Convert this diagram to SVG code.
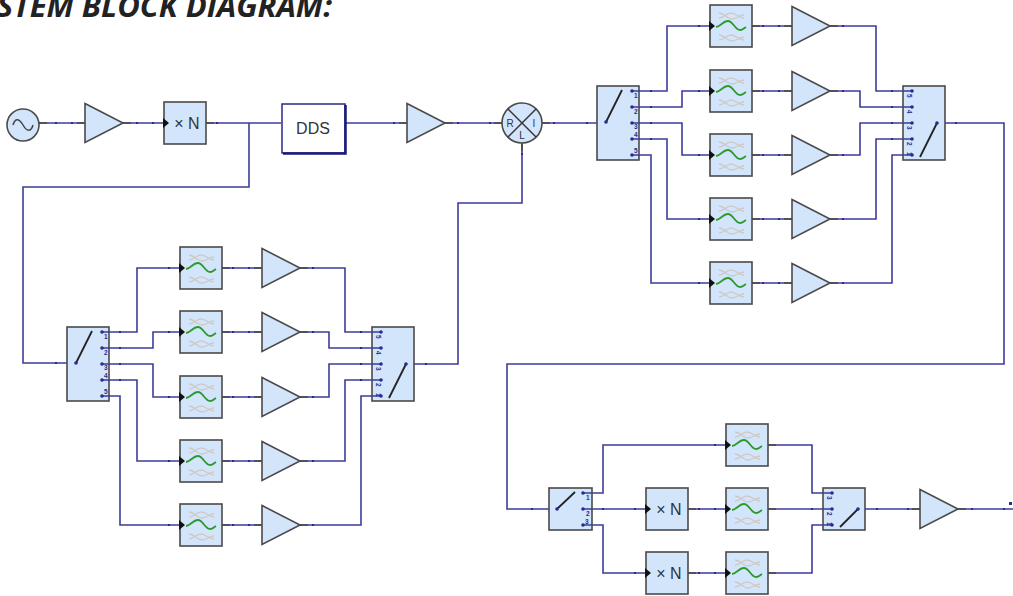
<svg xmlns="http://www.w3.org/2000/svg" xmlns:xlink="http://www.w3.org/1999/xlink" width="1013" height="596" viewBox="0 0 1013 596">
<style>
.blk{fill:#d3e5fb;stroke:#4a4a4a;stroke-width:1.6}
.lead{stroke:#4a4a4a;stroke-width:1.6}
.w{fill:none;stroke:#3c3c9c;stroke-width:1.6}
.dot{fill:#2a2a90}
.wg{fill:none;stroke:#cfc9c4;stroke-width:1.3}
.wgr{fill:none;stroke:#2a9a2a;stroke-width:1.8}
.wip{stroke:#222;stroke-width:1.8}
.pn{font-family:"Liberation Sans",Arial,sans-serif;font-size:6.5px;fill:#2a2a90;font-weight:bold}
.lbl{font-family:"Liberation Sans",Arial,sans-serif;fill:#333}
.title{font-family:"Open Sans","DejaVu Sans",sans-serif;font-weight:bold;font-style:italic;font-size:31px;fill:#222}
</style>
<defs>
<g id="amp">
<line x1="-8" y1="19.5" x2="0" y2="19.5" class="lead"/>
<polygon points="0,0 38,19.5 0,39" class="blk"/>
<line x1="38" y1="19.5" x2="46" y2="19.5" class="lead"/>
</g>
<g id="flt">
<rect x="0" y="0" width="42" height="42" class="blk"/>
<path d="M9,8 C14,8 17,14 22,14 C27,14 29,10 34,10" class="wg"/>
<path d="M9,13 C14,13 16,8 21,8 C26,8 29,13 34,13" class="wg"/>
<path d="M6,22 C10,22 13,16 18,16 C23,16 25,25 30,25 C33,25 34,23 36,22" class="wgr"/>
<path d="M9,30 C14,30 17,36 22,36 C27,36 29,32 34,32" class="wg"/>
<path d="M9,35 C14,35 16,30 21,30 C26,30 29,35 34,35" class="wg"/>
<polygon points="-1,16 5,21 -1,26" fill="#111"/>
<line x1="42" y1="21" x2="50" y2="21" class="lead"/>
</g>
<g id="xn">
<rect x="0" y="0" width="42" height="42" class="blk"/>
<polygon points="-1,16 5,21 -1,26" fill="#111"/>
<text x="23" y="27" text-anchor="middle" class="lbl" font-size="16">× N</text>
<line x1="42" y1="21" x2="50" y2="21" class="lead"/>
</g>
<g id="sp5">
<rect x="0" y="0" width="42" height="74" class="blk"/>
<line x1="9" y1="36" x2="25" y2="4" class="wip"/>
<circle cx="9" cy="36" r="1.8" class="dot"/>
<g class="w"><path d="M35,5 H43 M35,21 H43 M35,37 H43 M35,53 H43 M35,69 H43"/></g>
<circle cx="35" cy="5" r="1.8" class="dot"/><circle cx="35" cy="21" r="1.8" class="dot"/><circle cx="35" cy="37" r="1.8" class="dot"/><circle cx="35" cy="53" r="1.8" class="dot"/><circle cx="35" cy="69" r="1.8" class="dot"/>
<text x="37" y="12" class="pn">1</text><text x="37" y="28" class="pn">2</text><text x="37" y="43" class="pn">3</text><text x="37" y="51" class="pn">4</text><text x="37" y="67" class="pn">5</text>
</g>
<g id="cb5">
<rect x="0" y="0" width="42" height="74" class="blk"/>
<line x1="34" y1="37" x2="17" y2="71" class="wip"/>
<circle cx="34" cy="37" r="1.8" class="dot"/>
<g class="w"><path d="M0,5 H9 M0,21 H9 M0,37 H9 M0,53 H9 M0,69 H9"/></g>
<circle cx="9" cy="5" r="1.8" class="dot"/><circle cx="9" cy="21" r="1.8" class="dot"/><circle cx="9" cy="37" r="1.8" class="dot"/><circle cx="9" cy="53" r="1.8" class="dot"/><circle cx="9" cy="69" r="1.8" class="dot"/>
<text transform="translate(4,8) rotate(90)" class="pn">5</text><text transform="translate(4,24) rotate(90)" class="pn">4</text><text transform="translate(4,40) rotate(90)" class="pn">3</text><text transform="translate(4,56) rotate(90)" class="pn">2</text><text transform="translate(4,66) rotate(90)" class="pn">1</text>
</g>
<g id="sp3">
<rect x="0" y="0" width="43" height="42" class="blk"/>
<line x1="8" y1="21" x2="26" y2="4" class="wip"/>
<circle cx="8" cy="21" r="1.8" class="dot"/>
<g class="w"><path d="M34,5 H43 M34,21 H43 M34,37 H43"/></g>
<circle cx="34" cy="5" r="1.8" class="dot"/><circle cx="34" cy="21" r="1.8" class="dot"/><circle cx="34" cy="37" r="1.8" class="dot"/>
<text x="37" y="12" class="pn">1</text><text x="37" y="28" class="pn">2</text><text x="36" y="36" class="pn">3</text>
</g>
<g id="cb3">
<rect x="0" y="0" width="42" height="42" class="blk"/>
<line x1="35" y1="21" x2="17" y2="39" class="wip"/>
<circle cx="35" cy="21" r="1.8" class="dot"/>
<g class="w"><path d="M0,5 H9 M0,21 H9 M0,37 H9"/></g>
<circle cx="9" cy="5" r="1.8" class="dot"/><circle cx="9" cy="21" r="1.8" class="dot"/><circle cx="9" cy="37" r="1.8" class="dot"/>
<text transform="translate(4,8) rotate(90)" class="pn">3</text><text transform="translate(4,24) rotate(90)" class="pn">2</text><text transform="translate(4,34) rotate(90)" class="pn">1</text>
</g>
</defs>
<rect width="1013" height="596" fill="#fff"/>
<text x="332" y="17" text-anchor="end" class="title">SYSTEM BLOCK DIAGRAM:</text>

<g id="connectors" class="w">
<path d="M39,123 H85"/>
<path d="M123,123 H163"/>
<path d="M206,123 H281"/>
<path d="M249,123 V187 H23 V363 H76"/>
<path d="M345,123 H407"/>
<path d="M445,123 H502"/>
<path d="M542,123 H606"/>
<path d="M522,143 V203 H458 V364 H406"/>
<path d="M640,91 H667 V26 H710"/>
<path d="M640,107 H682 V91 H710"/>
<path d="M640,123 H682 V155 H710"/>
<path d="M640,139 H667 V219 H710"/>
<path d="M640,155 H651 V283 H710"/>
<path d="M752,26 H792 M752,91 H792 M752,155 H792 M752,219 H792 M752,283 H792"/>
<path d="M830,26 H876 V91 H903"/>
<path d="M830,91 H860 V107 H903"/>
<path d="M830,155 H860 V123 H903"/>
<path d="M830,219 H876 V139 H903"/>
<path d="M830,283 H892 V155 H903"/>
<path d="M937,123 H1004 V364 H507 V509 H557"/>
<path d="M109,332 H137 V268 H180"/>
<path d="M109,348 H153 V332 H180"/>
<path d="M109,364 H153 V397 H180"/>
<path d="M109,380 H137 V461 H180"/>
<path d="M109,396 H120 V525 H180"/>
<path d="M222,268 H261 M222,332 H261 M222,397 H261 M222,461 H261 M222,525 H261"/>
<path d="M300,268 H345 V332 H372"/>
<path d="M300,332 H329 V348 H372"/>
<path d="M300,397 H329 V364 H372"/>
<path d="M300,461 H345 V380 H372"/>
<path d="M300,525 H361 V396 H372"/>
<path d="M592,493 H603 V445 H726"/>
<path d="M592,509 H646"/>
<path d="M592,525 H603 V573 H646"/>
<path d="M688,509 H726 M688,573 H726"/>
<path d="M768,445 H812 V493 H823"/>
<path d="M768,509 H823"/>
<path d="M768,573 H812 V525 H823"/>
<path d="M858,509 H920"/>
<path d="M958,509 H1013"/>
</g>
<g id="wire-dots" class="dot">
<rect x="55" y="122" width="2" height="2"/><rect x="71" y="122" width="2" height="2"/>
<rect x="136" y="122" width="2" height="2"/><rect x="152" y="122" width="2" height="2"/>
<rect x="216" y="122" width="2" height="2"/>
<rect x="393" y="122" width="2" height="2"/><rect x="457" y="122" width="2" height="2"/><rect x="489" y="122" width="2" height="2"/>
<rect x="553" y="122" width="2" height="2"/><rect x="586" y="122" width="2" height="2"/>
<rect x="521" y="153" width="2" height="2"/>
<rect x="55" y="362" width="2" height="2"/>
<rect x="425" y="363" width="2" height="2"/>
<rect x="955" y="122" width="2" height="2"/>
<rect x="650" y="90" width="2" height="2"/><rect x="650" y="106" width="2" height="2"/><rect x="650" y="122" width="2" height="2"/><rect x="650" y="138" width="2" height="2"/>
<rect x="698" y="25" width="2" height="2"/><rect x="698" y="90" width="2" height="2"/><rect x="698" y="154" width="2" height="2"/><rect x="698" y="218" width="2" height="2"/><rect x="698" y="282" width="2" height="2"/>
<rect x="762" y="25" width="2" height="2"/><rect x="778" y="25" width="2" height="2"/><rect x="762" y="90" width="2" height="2"/><rect x="778" y="90" width="2" height="2"/><rect x="762" y="154" width="2" height="2"/><rect x="778" y="154" width="2" height="2"/><rect x="762" y="218" width="2" height="2"/><rect x="778" y="218" width="2" height="2"/><rect x="762" y="282" width="2" height="2"/><rect x="778" y="282" width="2" height="2"/>
<rect x="842" y="25" width="2" height="2"/><rect x="842" y="90" width="2" height="2"/><rect x="842" y="154" width="2" height="2"/><rect x="842" y="218" width="2" height="2"/><rect x="842" y="282" width="2" height="2"/>
<rect x="891" y="90" width="2" height="2"/><rect x="891" y="106" width="2" height="2"/><rect x="891" y="122" width="2" height="2"/><rect x="891" y="138" width="2" height="2"/>
<rect x="119" y="331" width="2" height="2"/><rect x="119" y="347" width="2" height="2"/><rect x="119" y="363" width="2" height="2"/><rect x="119" y="379" width="2" height="2"/>
<rect x="168" y="267" width="2" height="2"/><rect x="168" y="331" width="2" height="2"/><rect x="168" y="396" width="2" height="2"/><rect x="168" y="460" width="2" height="2"/><rect x="168" y="524" width="2" height="2"/>
<rect x="232" y="267" width="2" height="2"/><rect x="248" y="267" width="2" height="2"/><rect x="232" y="331" width="2" height="2"/><rect x="248" y="331" width="2" height="2"/><rect x="232" y="396" width="2" height="2"/><rect x="248" y="396" width="2" height="2"/><rect x="232" y="460" width="2" height="2"/><rect x="248" y="460" width="2" height="2"/><rect x="232" y="524" width="2" height="2"/><rect x="248" y="524" width="2" height="2"/>
<rect x="312" y="267" width="2" height="2"/><rect x="312" y="331" width="2" height="2"/><rect x="312" y="396" width="2" height="2"/><rect x="312" y="460" width="2" height="2"/><rect x="312" y="524" width="2" height="2"/>
<rect x="360" y="331" width="2" height="2"/><rect x="360" y="347" width="2" height="2"/><rect x="360" y="363" width="2" height="2"/><rect x="360" y="379" width="2" height="2"/>
<rect x="531" y="508" width="2" height="2"/><rect x="602" y="508" width="2" height="2"/><rect x="634" y="508" width="2" height="2"/><rect x="634" y="572" width="2" height="2"/><rect x="714" y="444" width="2" height="2"/>
<rect x="698" y="508" width="2" height="2"/><rect x="714" y="508" width="2" height="2"/><rect x="698" y="572" width="2" height="2"/><rect x="714" y="572" width="2" height="2"/>
<rect x="811" y="508" width="2" height="2"/><rect x="876" y="508" width="2" height="2"/><rect x="907" y="508" width="2" height="2"/><rect x="971" y="508" width="2" height="2"/><rect x="1003" y="508" width="2" height="2"/>
<rect x="1009" y="502" width="3" height="3"/>
</g>

<g id="osc">
<line x1="39" y1="123" x2="47" y2="123" class="lead"/>
<circle cx="23" cy="125" r="16" class="blk"/>
<path d="M13,125 C15,118 19,118 23,125 C27,132 31,132 33,125" fill="none" stroke="#444" stroke-width="1.5"/>
</g>
<g id="amp1"><use xlink:href="#amp" transform="translate(85,103.5)"/></g>
<g id="mult1"><use xlink:href="#xn" transform="translate(164,102)"/></g>
<g id="dds">
<rect x="282" y="104" width="63" height="49" fill="#fff" stroke="#2a2a8a" stroke-width="1.5"/>
<path d="M345.5,105 V153.5 H283" fill="none" stroke="#1a1a7a" stroke-width="2.5"/>
<text x="313" y="134" text-anchor="middle" class="lbl" font-size="16">DDS</text>
</g>
<g id="amp2"><use xlink:href="#amp" transform="translate(407,103.5)"/></g>
<g id="mixer">
<line x1="494" y1="123" x2="502" y2="123" class="lead"/>
<line x1="542" y1="123" x2="550" y2="123" class="lead"/>
<line x1="522" y1="143" x2="522" y2="151" class="lead"/>
<circle cx="522" cy="123" r="20" class="blk"/>
<line x1="508" y1="109" x2="536" y2="137" stroke="#333" stroke-width="1.5"/>
<line x1="536" y1="109" x2="508" y2="137" stroke="#333" stroke-width="1.5"/>
<text x="510" y="127" text-anchor="middle" class="lbl" font-size="10">R</text>
<text x="534" y="127" text-anchor="middle" class="lbl" font-size="10">I</text>
<text x="522" y="139" text-anchor="middle" class="lbl" font-size="10">L</text>
</g>

<g id="sw-top-split"><use xlink:href="#sp5" transform="translate(597,86)"/></g>
<g id="flt-t1"><use xlink:href="#flt" transform="translate(710,5)"/></g>
<g id="flt-t2"><use xlink:href="#flt" transform="translate(710,70)"/></g>
<g id="flt-t3"><use xlink:href="#flt" transform="translate(710,134)"/></g>
<g id="flt-t4"><use xlink:href="#flt" transform="translate(710,198)"/></g>
<g id="flt-t5"><use xlink:href="#flt" transform="translate(710,262)"/></g>
<g id="amp-t1"><use xlink:href="#amp" transform="translate(792,6.5)"/></g>
<g id="amp-t2"><use xlink:href="#amp" transform="translate(792,71.5)"/></g>
<g id="amp-t3"><use xlink:href="#amp" transform="translate(792,135.5)"/></g>
<g id="amp-t4"><use xlink:href="#amp" transform="translate(792,199.5)"/></g>
<g id="amp-t5"><use xlink:href="#amp" transform="translate(792,263.5)"/></g>
<g id="sw-top-comb"><use xlink:href="#cb5" transform="translate(903,86)"/></g>

<g id="sw-left-split"><use xlink:href="#sp5" transform="translate(67,327)"/></g>
<g id="flt-l1"><use xlink:href="#flt" transform="translate(180,247)"/></g>
<g id="flt-l2"><use xlink:href="#flt" transform="translate(180,311)"/></g>
<g id="flt-l3"><use xlink:href="#flt" transform="translate(180,376)"/></g>
<g id="flt-l4"><use xlink:href="#flt" transform="translate(180,440)"/></g>
<g id="flt-l5"><use xlink:href="#flt" transform="translate(180,504)"/></g>
<g id="amp-l1"><use xlink:href="#amp" transform="translate(262,248.5)"/></g>
<g id="amp-l2"><use xlink:href="#amp" transform="translate(262,312.5)"/></g>
<g id="amp-l3"><use xlink:href="#amp" transform="translate(262,377.5)"/></g>
<g id="amp-l4"><use xlink:href="#amp" transform="translate(262,441.5)"/></g>
<g id="amp-l5"><use xlink:href="#amp" transform="translate(262,505.5)"/></g>
<g id="sw-left-comb"><use xlink:href="#cb5" transform="translate(372,327)"/></g>

<g id="sw-bot-split"><use xlink:href="#sp3" transform="translate(549,488)"/></g>
<g id="mult2"><use xlink:href="#xn" transform="translate(646,488)"/></g>
<g id="mult3"><use xlink:href="#xn" transform="translate(646,552)"/></g>
<g id="flt-b1"><use xlink:href="#flt" transform="translate(726,424)"/></g>
<g id="flt-b2"><use xlink:href="#flt" transform="translate(726,488)"/></g>
<g id="flt-b3"><use xlink:href="#flt" transform="translate(726,552)"/></g>
<g id="sw-bot-comb"><use xlink:href="#cb3" transform="translate(823,488)"/></g>
<g id="amp-out"><use xlink:href="#amp" transform="translate(920,489.5)"/></g>
</svg>
